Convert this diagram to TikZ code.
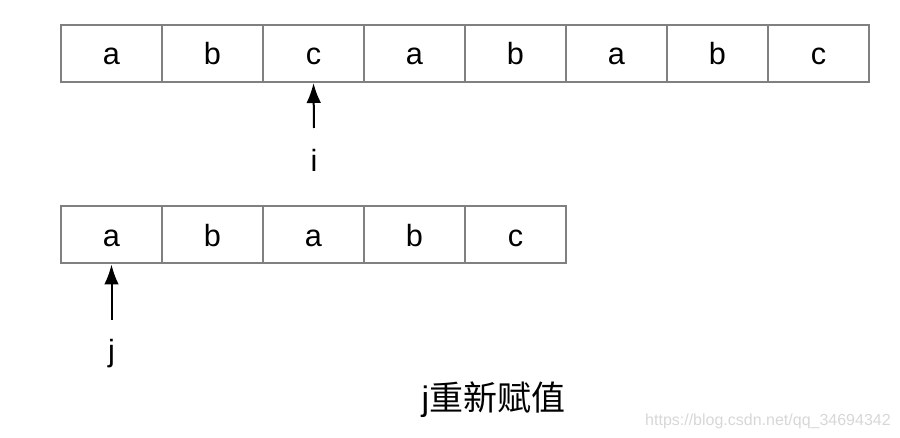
\documentclass[tikz,border=0pt]{standalone}
\usepackage{fontspec}
\setmainfont{Liberation Sans}
\newfontfamily\cjk{Noto Sans CJK SC}
\usetikzlibrary{arrows.meta}

\definecolor{cellgray}{RGB}{128,128,128}
\definecolor{markgray}{RGB}{215,215,215}

\tikzset{
  cell/.style={draw=cellgray, line width=1.5pt, minimum width=75.75pt, minimum height=42.75pt,
    inner sep=0pt, text height=17.25pt, text depth=0pt, font=\fontsize{23}{27}\selectfont},
  pointer/.style={line width=1.5pt, -{Latex[length=15pt,width=11pt]}},
  lbl/.style={anchor=base, inner sep=0pt, font=\fontsize{23}{27}\selectfont}
}

\begin{document}
\begin{tikzpicture}[x=0.75pt, y=-0.75pt]

% main string
\foreach \l [count=\i] in {a,b,c,a,b,a,b,c}
\node[cell] (t\i) at ({111.5+101*(\i-1)},53.5) {\l};

% pattern
\foreach \l [count=\i] in {a,b,a,b,c}
\node[cell] (p\i) at ({111.5+101*(\i-1)},235) {\l};

\coordinate (ifoot) at (314,128);
\node[lbl] (ilabel) at (314,172) {i};
\draw[pointer] (ifoot) -- (t3.south);

\coordinate (jfoot) at (111.5,320);
\node[lbl] (jlabel) at (111.5,362) {j};
\draw[pointer] (jfoot) -- (p1.south);

\node[lbl, font=\fontsize{25.5}{30}\selectfont] (note) at (493.5,410) {j{\cjk 重新赋值}};
\node[anchor=base east, inner sep=0pt, text=markgray, font=\fontsize{12}{14}\selectfont] (mark) at (891,425) {https://blog.csdn.net/qq\_34694342};

\useasboundingbox (0,0) rectangle (900,438);
\end{tikzpicture}
\end{document}
